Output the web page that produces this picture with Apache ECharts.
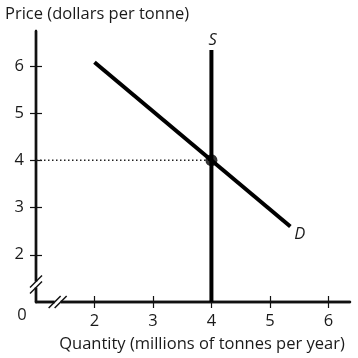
<!DOCTYPE html>
<html>
<head>
<meta charset="utf-8">
<script src="https://cdn.jsdelivr.net/npm/echarts@6/dist/echarts.min.js"></script>
<style>html,body{margin:0;padding:0;background:#fff}#c{width:358px;height:358px}</style>
</head>
<body>
<div id="c"></div>
<script>
const xTicks = [2, 3, 4, 5, 6];
const yTicks = [2, 3, 4, 5, 6];
const demandQ = [2, 5.35];
const demandP = [6.08, 2.6];
const supplyQ = [4, 4];
const supplyP = [1, 6.34];
const eqQ = [4];
const eqP = [4];
const guideQ = [1, 4];
const guideP = [4, 4];
const axisMin = 1;
const xMax = 6.37;
const yMax = 6.74;

const FONT = 'Open Sans';
const FS = 16.5;
const pts = (xs, ys) => xs.map((x, i) => [x, ys[i]]);

const chart = echarts.init(document.getElementById('c'), null, {renderer: 'canvas'});
const baseX = {type: 'value', min: axisMin, max: xMax, interval: 1, splitLine: {show: false}, position: 'bottom'};
const baseY = {type: 'value', min: axisMin, max: yMax, interval: 1, splitLine: {show: false}, position: 'left'};
const axLine = {show: true, onZero: false, lineStyle: {color: '#111', width: 2.4}};

chart.setOption({
  animation: false,
  title: {text: 'Price (dollars per tonne)', left: 0, top: 1,
    textStyle: {fontFamily: FONT, fontSize: FS, fontWeight: 'normal', color: '#1a1a1a'}},
  grid: {left: 36, top: 31, right: 8, bottom: 55},
  xAxis: [
    Object.assign({}, baseX, {
      axisLine: axLine,
      axisTick: {show: true, length: 6, customValues: xTicks, lineStyle: {color: '#111', width: 1.2}},
      axisLabel: {customValues: xTicks, margin: 11, fontFamily: FONT, fontSize: FS, color: '#1a1a1a'},
      name: 'Quantity (millions of tonnes per year)', nameLocation: 'middle', nameGap: 34,
      nameTextStyle: {fontFamily: FONT, fontSize: FS, color: '#1a1a1a', padding: [0, 0, 0, 18]}
    }),
    Object.assign({}, baseX, {
      axisLine: axLine,
      axisTick: {show: true, inside: true, length: 6, customValues: xTicks, lineStyle: {color: '#111', width: 1.2}},
      axisLabel: {show: false}
    })
  ],
  yAxis: [
    Object.assign({}, baseY, {
      axisLine: axLine,
      axisTick: {show: true, length: 6, customValues: yTicks, lineStyle: {color: '#111', width: 1.2}},
      axisLabel: {customValues: yTicks, margin: 12, fontFamily: FONT, fontSize: FS, color: '#1a1a1a'}
    }),
    Object.assign({}, baseY, {
      axisLine: axLine,
      axisTick: {show: true, inside: true, length: 6, customValues: yTicks, lineStyle: {color: '#111', width: 1.2}},
      axisLabel: {show: false}
    })
  ],
  series: [
    {type: 'line', data: pts(guideQ, guideP), symbol: 'none', z: 1,
      lineStyle: {color: '#222', width: 1.5, type: [1.5, 2.5]}},
    {type: 'line', data: pts(demandQ, demandP), symbol: 'none', z: 3,
      lineStyle: {color: '#000', width: 4},
      endLabel: {show: true, formatter: 'D', offset: [0, 8], distance: 4,
        fontFamily: FONT, fontSize: FS, fontStyle: 'italic', color: '#1a1a1a'}},
    {type: 'line', data: pts(supplyQ, supplyP), symbol: 'none', z: 3,
      lineStyle: {color: '#000', width: 4},
      endLabel: {show: true, formatter: 'S', offset: [-3, -10], distance: 0,
        fontFamily: FONT, fontSize: FS, fontStyle: 'italic', color: '#1a1a1a'}},
    {type: 'scatter', data: pts(eqQ, eqP), symbol: 'circle', symbolSize: 12, z: 4,
      itemStyle: {color: '#000'}}
  ]
});

// axis break marks and origin label
const o = chart.convertToPixel({gridIndex: 0}, [axisMin, axisMin]);
const yb = chart.convertToPixel({gridIndex: 0}, [axisMin, 1.37]);
const xb = chart.convertToPixel({gridIndex: 0}, [1.37, axisMin]);
function breakMark(cx, cy, vertical) {
  const els = [];
  const gap = 3;
  els.push({type: 'rect', shape: vertical ? {x: cx - 3, y: cy - gap, width: 6, height: gap * 2}
                                        : {x: cx - gap, y: cy - 3, width: gap * 2, height: 6},
    style: {fill: '#fff'}, z: 100});
  for (const d of [-gap, gap]) {
    const px = vertical ? cx : cx + d;
    const py = vertical ? cy + d : cy;
    els.push({type: 'line', shape: {x1: px - 6, y1: py + 6, x2: px + 6, y2: py - 6},
      style: {stroke: '#111', lineWidth: 1.5}, z: 101});
  }
  return els;
}
chart.setOption({graphic: [
  ...breakMark(yb[0], yb[1], true),
  ...breakMark(xb[0], xb[1], false),
  {type: 'text', x: o[0] - 14, y: o[1] + 13, z: 101,
    style: {text: '0', fontFamily: FONT, fontSize: FS, fill: '#1a1a1a', align: 'center', verticalAlign: 'middle'}}
]});
</script>
</body>
</html>
